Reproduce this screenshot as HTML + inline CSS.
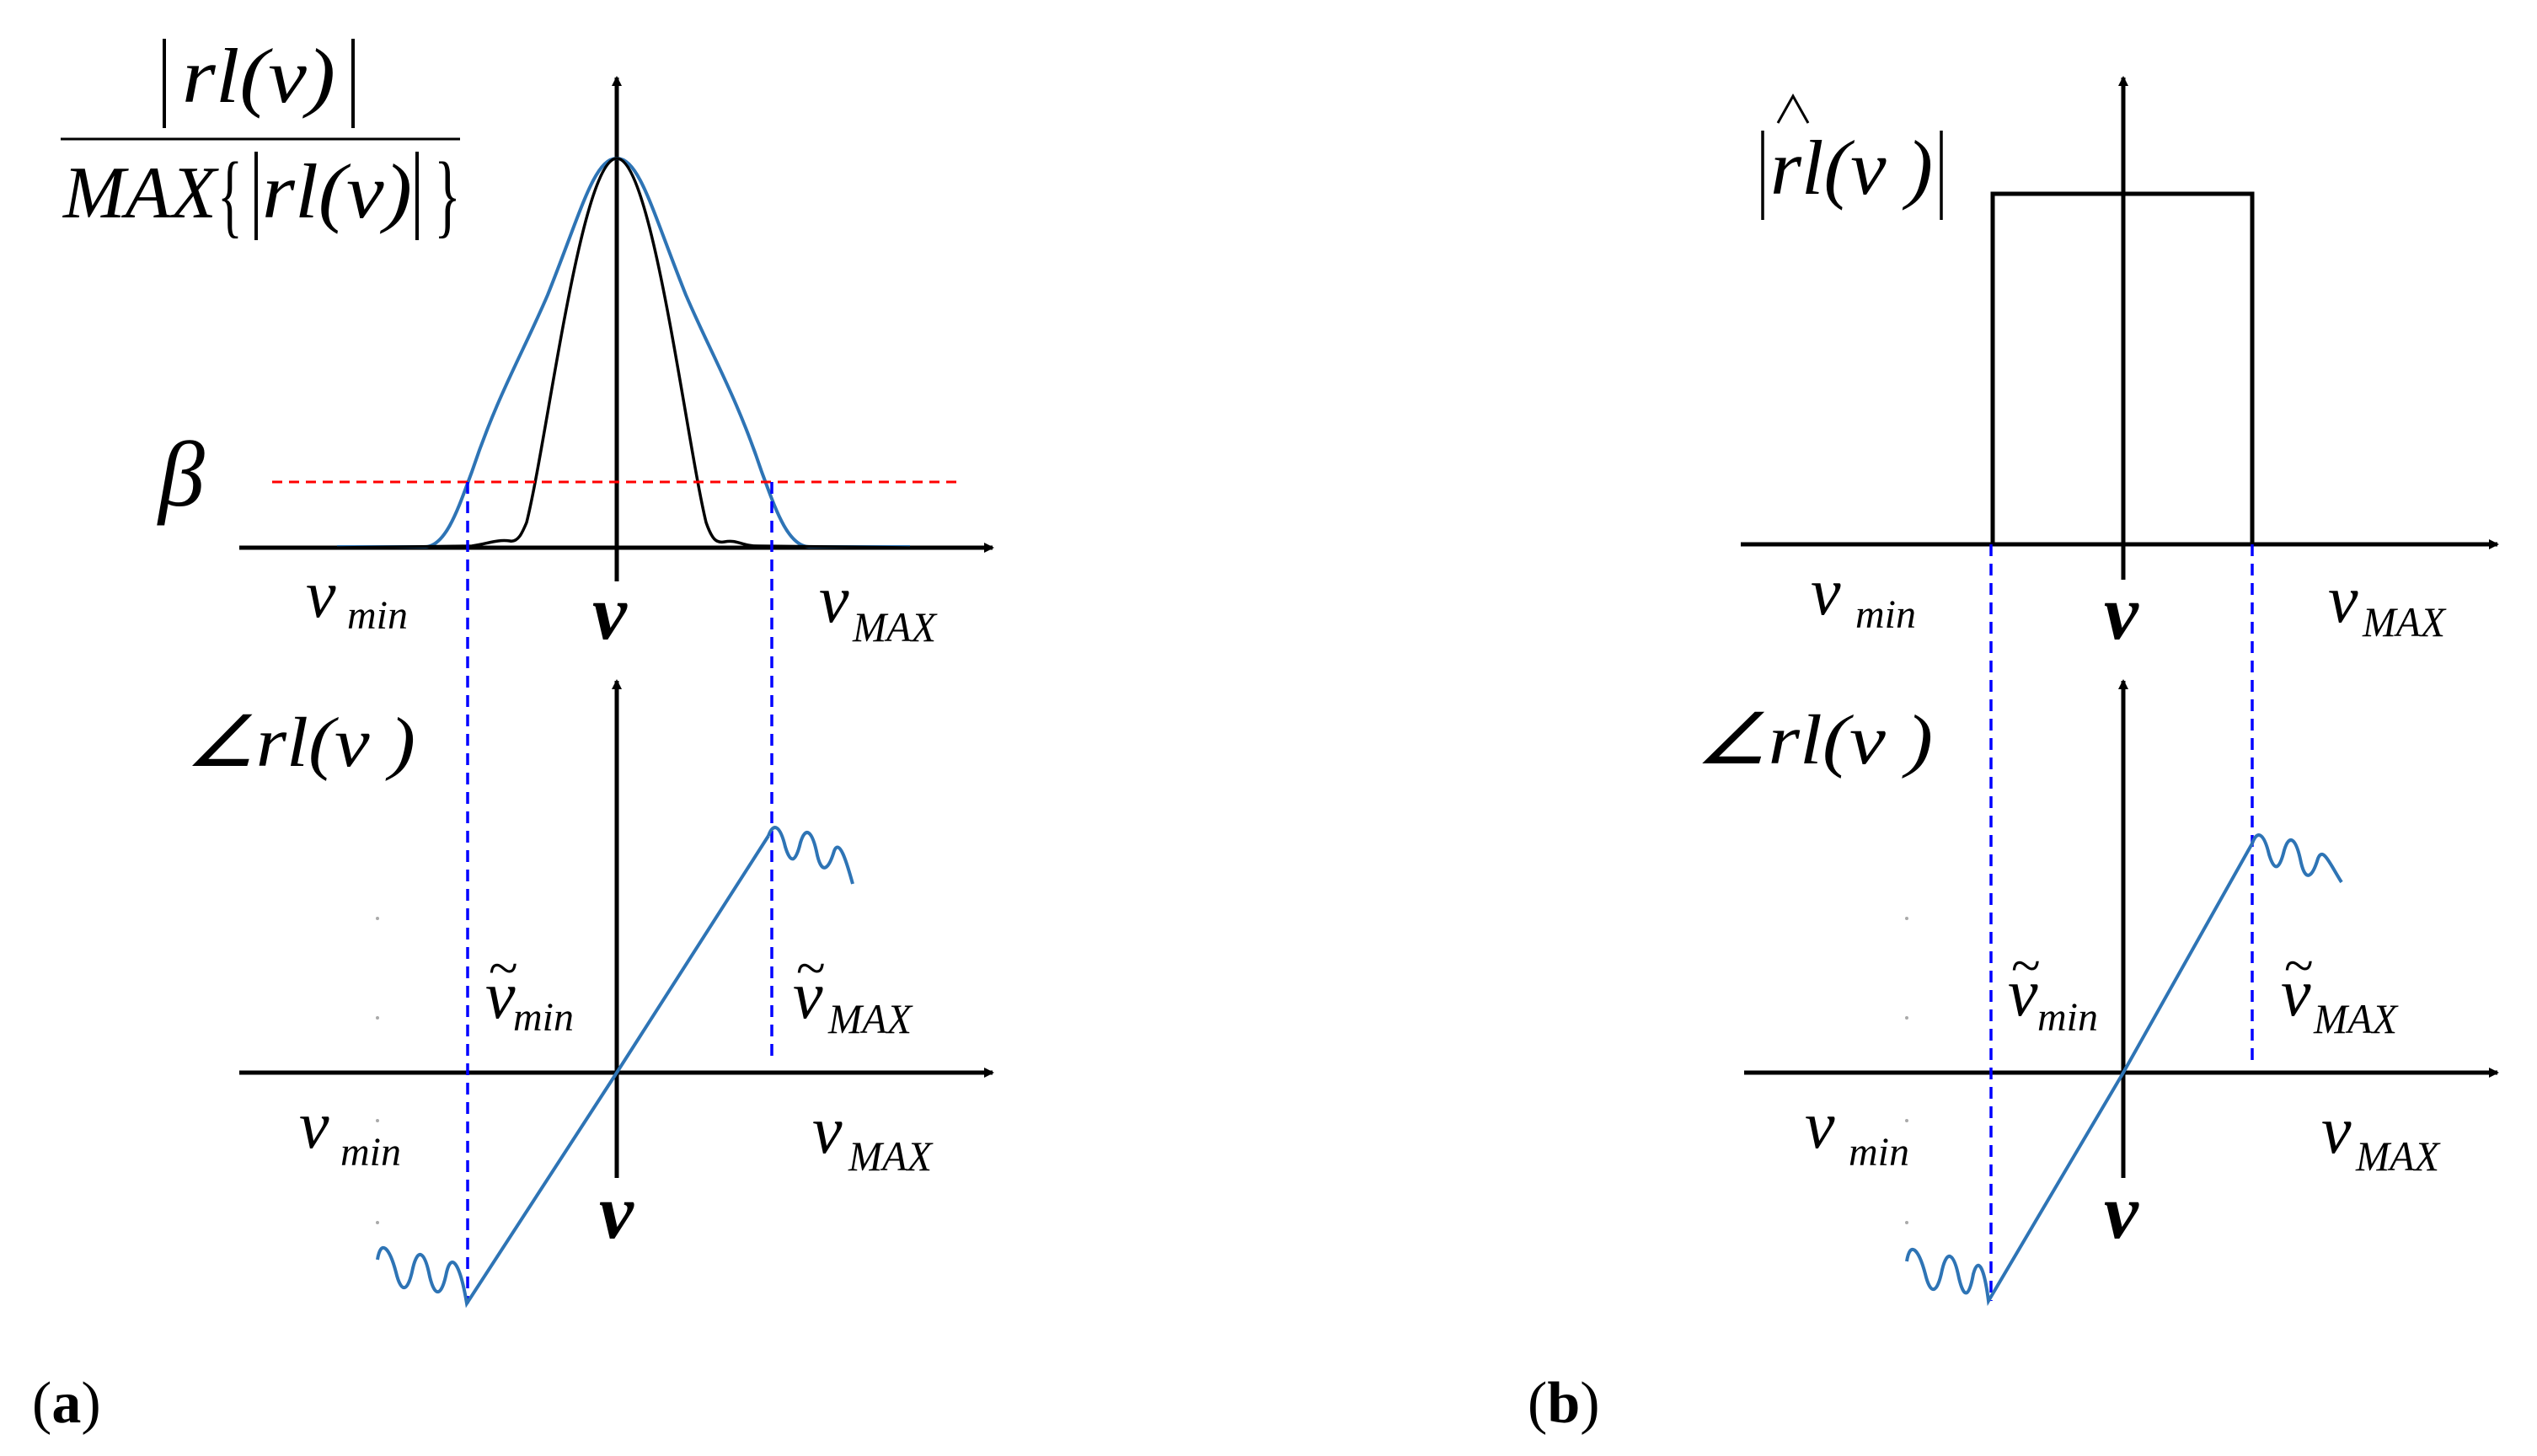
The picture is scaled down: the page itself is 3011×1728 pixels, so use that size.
<!DOCTYPE html>
<html><head><meta charset="utf-8"><style>
html,body{margin:0;padding:0;background:#fff;}
svg{display:block;}
text{font-family:"Liberation Serif",serif;font-style:italic;fill:#000;}
.n{font-style:normal;}
</style></head><body>
<svg width="3011" height="1728" viewBox="0 0 3011 1728" xmlns="http://www.w3.org/2000/svg">
<defs>
<marker id="ar" markerWidth="12" markerHeight="12" refX="10" refY="6" orient="auto" markerUnits="userSpaceOnUse"><path d="M0,0 L12,6 L0,12 z" fill="#000"/></marker>
</defs>
<g stroke="#000" stroke-width="5" fill="none">
<line x1="732" y1="690" x2="732" y2="92" marker-end="url(#ar)"/>
<line x1="284" y1="650" x2="1178" y2="650" marker-end="url(#ar)"/>
<line x1="732" y1="1398" x2="732" y2="808" marker-end="url(#ar)"/>
<line x1="284" y1="1273" x2="1178" y2="1273" marker-end="url(#ar)"/>
<line x1="2520" y1="688" x2="2520" y2="92" marker-end="url(#ar)"/>
<line x1="2066" y1="646" x2="2964" y2="646" marker-end="url(#ar)"/>
<line x1="2520" y1="1398" x2="2520" y2="808" marker-end="url(#ar)"/>
<line x1="2070" y1="1273" x2="2964" y2="1273" marker-end="url(#ar)"/>
<path d="M2365 646 L2365 230 L2673 230 L2673 646" stroke-width="5"/>
</g>
<path d="M400 649 L505 649 C530 648,545 600,560 560 C590 470,620 420,650 350 C690 250,705 188,732 188 C759 188,774 250,814 350 C844 420,874 470,904 560 C919 600,934 648,960 649 L1080 649" stroke="#2e74b5" stroke-width="4" fill="none"/>
<path d="M400 650 L560 648 C580 645,590 640,605 642 C615 644,620 632,625 620 C650 520,690 188,732 188 C774 188,814 520,838 620 C845 640,850 645,860 643 C875 640,880 648,900 648 L1080 650" stroke="#000" stroke-width="3.5" fill="none"/>
<line x1="323" y1="572" x2="1140" y2="572" stroke="#ff0000" stroke-width="3" stroke-dasharray="12 8"/>
<g stroke="#0000ff" stroke-width="3.5" stroke-dasharray="14 9">
<line x1="555" y1="572" x2="555" y2="1547"/>
<line x1="916" y1="572" x2="916" y2="1258"/>
<line x1="2363" y1="646" x2="2363" y2="1544"/>
<line x1="2673" y1="646" x2="2673" y2="1262"/>
</g>
<g stroke="#2e74b5" stroke-width="4" fill="none">
<path d="M448 1495 C452 1470,462 1480,470 1510 C476 1535,484 1535,490 1505 C496 1480,504 1485,510 1515 C516 1540,524 1540,530 1510 C536 1485,546 1500,554 1547 L732 1273 L912 992"/>
<path d="M912 992 C918 975,926 980,932 1005 C938 1025,944 1025,950 1000 C956 980,964 985,970 1015 C976 1040,984 1030,990 1010 C996 995,1004 1020,1012 1049"/>
<path d="M2263 1497 C2267 1472,2277 1482,2285 1512 C2291 1537,2299 1537,2305 1507 C2311 1482,2319 1487,2325 1517 C2331 1542,2337 1540,2342 1512 C2348 1490,2355 1505,2360 1544 L2520 1273 L2673 1001"/>
<path d="M2673 1001 C2679 984,2687 989,2693 1014 C2699 1034,2705 1034,2711 1009 C2717 989,2725 994,2731 1024 C2737 1049,2745 1039,2751 1019 C2757 1004,2765 1025,2779 1047"/>
</g>
<g fill="#aaa"><circle cx="448" cy="1090" r="2"/><circle cx="448" cy="1208" r="2"/><circle cx="448" cy="1330" r="2"/><circle cx="448" cy="1451" r="2"/>
<circle cx="2263" cy="1090" r="2"/><circle cx="2263" cy="1208" r="2"/><circle cx="2263" cy="1330" r="2"/><circle cx="2263" cy="1451" r="2"/></g>

<g stroke="#000" stroke-width="4">
<line x1="195" y1="46" x2="195" y2="152"/><line x1="419" y1="46" x2="419" y2="152"/>
<line x1="72" y1="165" x2="546" y2="165" stroke-width="3"/>
<line x1="304" y1="180" x2="304" y2="285"/><line x1="495" y1="180" x2="495" y2="285"/>
</g>
<text x="216" y="121" font-size="92" textLength="182" lengthAdjust="spacingAndGlyphs">rl(ν)</text>
<text x="75" y="258" font-size="88" textLength="182" lengthAdjust="spacingAndGlyphs">MAX</text>
<text x="258" y="268" font-size="110" class="n" textLength="30" lengthAdjust="spacingAndGlyphs">{</text>
<text x="311" y="258" font-size="92" textLength="178" lengthAdjust="spacingAndGlyphs">rl(ν)</text>
<text x="515" y="268" font-size="110" class="n" textLength="32" lengthAdjust="spacingAndGlyphs">}</text>
<text x="188" y="600" font-size="110">β</text>

<text x="363" y="732" font-size="80">ν</text><text x="412" y="746" font-size="48">min</text>
<text x="703" y="758" font-size="92" font-weight="bold">ν</text>
<text x="972" y="738" font-size="80">ν</text><text x="1012" y="761" font-size="50" textLength="99" lengthAdjust="spacingAndGlyphs">MAX</text>
<text x="220" y="909" font-size="84" textLength="273" lengthAdjust="spacingAndGlyphs">∠rl(ν )</text>
<text x="576" y="1208" font-size="80">ν</text><text x="580" y="1170" font-size="64" class="n">~</text><text x="609" y="1223" font-size="48">min</text>
<text x="941" y="1208" font-size="80">ν</text><text x="945" y="1170" font-size="64" class="n">~</text><text x="983" y="1226" font-size="50" textLength="99" lengthAdjust="spacingAndGlyphs">MAX</text>
<text x="355" y="1362" font-size="80">ν</text><text x="404" y="1383" font-size="48">min</text>
<text x="964" y="1368" font-size="80">ν</text><text x="1007" y="1389" font-size="50" textLength="99" lengthAdjust="spacingAndGlyphs">MAX</text>
<text x="711" y="1469" font-size="92" font-weight="bold">ν</text>
<text x="38" y="1688" font-size="70" class="n">(<tspan font-weight="bold">a</tspan>)</text>

<g stroke="#000" stroke-width="3.5"><line x1="2092" y1="155" x2="2092" y2="261"/><line x1="2304" y1="155" x2="2304" y2="261"/></g>
<path d="M2110 146 L2128 114 L2146 146" stroke="#000" stroke-width="3" fill="none"/>
<text x="2101" y="230" font-size="92" textLength="193" lengthAdjust="spacingAndGlyphs">rl(ν )</text>
<text x="2149" y="729" font-size="80">ν</text><text x="2202" y="745" font-size="48">min</text>
<text x="2497" y="758" font-size="92" font-weight="bold">ν</text>
<text x="2763" y="738" font-size="80">ν</text><text x="2804" y="755" font-size="50" textLength="98" lengthAdjust="spacingAndGlyphs">MAX</text>
<text x="2012" y="906" font-size="84" textLength="282" lengthAdjust="spacingAndGlyphs">∠rl(ν )</text>
<text x="2383" y="1205" font-size="80">ν</text><text x="2387" y="1167" font-size="64" class="n">~</text><text x="2418" y="1223" font-size="48">min</text>
<text x="2707" y="1205" font-size="80">ν</text><text x="2711" y="1167" font-size="64" class="n">~</text><text x="2746" y="1226" font-size="50" textLength="99" lengthAdjust="spacingAndGlyphs">MAX</text>
<text x="2142" y="1362" font-size="80">ν</text><text x="2194" y="1383" font-size="48">min</text>
<text x="2755" y="1368" font-size="80">ν</text><text x="2796" y="1389" font-size="50" textLength="99" lengthAdjust="spacingAndGlyphs">MAX</text>
<text x="2497" y="1469" font-size="92" font-weight="bold">ν</text>
<text x="1813" y="1688" font-size="70" class="n">(<tspan font-weight="bold">b</tspan>)</text>
</svg>
</body></html>
